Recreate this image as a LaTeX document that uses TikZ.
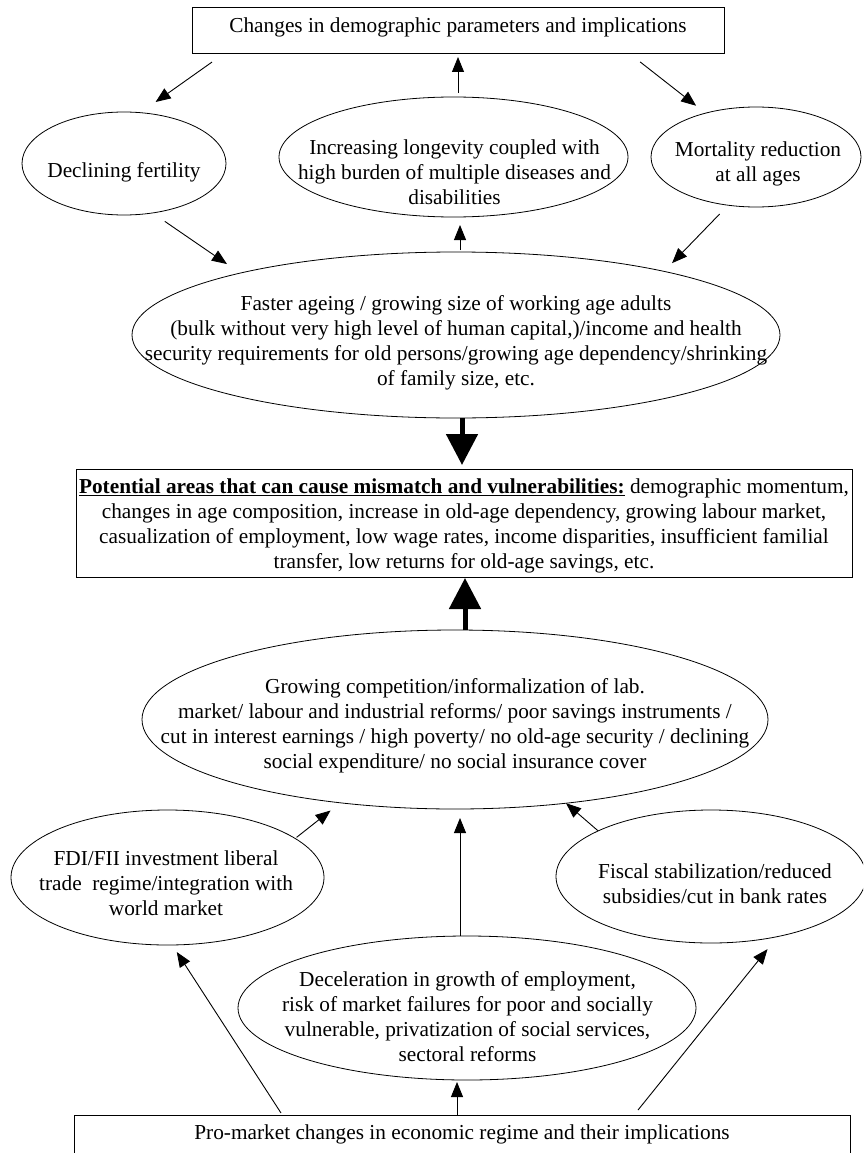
\documentclass[tikz,border=0pt]{standalone}
\usepackage{fontspec}
\setmainfont{Liberation Serif}
\usetikzlibrary{arrows.meta,shapes.geometric}
\begin{document}
\begin{tikzpicture}[x=1pt,y=-1pt,
  every node/.style={inner sep=0pt, outer sep=0pt},
  ell/.style={draw, ellipse, line width=0.8pt},
  box/.style={draw, rectangle, line width=0.8pt},
  txt/.style={align=center, font=\fontsize{21.3}{25}\selectfont},
  arr/.style={line width=0.9pt, -{Triangle[length=15pt,width=12pt]}},
  bigarr/.style={line width=5pt, -{Triangle[length=31pt,width=31pt]}},
]
\useasboundingbox (0,0) rectangle (863,1153);
\clip (0,0) rectangle (863,1153);

% shapes
\node[box, minimum width=532pt, minimum height=46pt] (top) at (458,30) {};
\node[ell, minimum width=204pt, minimum height=103pt] (fert) at (124,163.5) {};
\node[ell, minimum width=349pt, minimum height=120pt] (longev) at (453.5,157) {};
\node[ell, minimum width=210pt, minimum height=100pt] (mort) at (756,157) {};
\node[ell, minimum width=648pt, minimum height=166pt] (big) at (456,335) {};
\node[box, minimum width=776pt, minimum height=108pt] (pot) at (464,523) {};
\node[ell, minimum width=626pt, minimum height=179pt] (grow) at (455,719.5) {};
\node[ell, minimum width=313pt, minimum height=135pt] (fdi) at (167.5,877.5) {};
\node[ell, minimum width=310pt, minimum height=133pt] (fisc) at (711,876.5) {};
\node[ell, minimum width=458pt, minimum height=144pt] (decel) at (467,1008) {};
\node[box, minimum width=776pt, minimum height=44pt] (bottom) at (462,1137) {};

% texts
\node[txt] (ttop) at (458,27.5) {Changes in demographic parameters and implications};
\node[txt] (tfert) at (124,172) {Declining fertility};
\node[txt] (tlongev) at (454.5,172.5) {Increasing longevity coupled with\\high burden of multiple diseases and\\disabilities};
\node[txt] (tmort) at (758,164) {Mortality reduction\\at all ages};
\node[txt] (tbig) at (456,342.5) {Faster ageing / growing size of working age adults\\(bulk without very high level of human capital,)/income and health\\security requirements for old persons/growing age dependency/shrinking\\of family size, etc.};
\node[txt] (tpot) at (464,526) {\underline{\textbf{Potential areas that can cause mismatch and vulnerabilities:}} demographic momentum,\\changes in age composition, increase in old-age dependency, growing labour market,\\casualization of employment, low wage rates, income disparities, insufficient familial\\transfer, low returns for old-age savings, etc.};
\node[txt] (tgrow) at (455,725.5) {Growing competition/informalization of lab.\\market/ labour and industrial reforms/ poor savings instruments /\\cut in interest earnings / high poverty/ no old-age security / declining\\social expenditure/ no social insurance cover};
\node[txt] (tfdi) at (166,883.5) {FDI/FII investment liberal\\trade\ \ regime/integration with\\world market};
\node[txt] (tfisc) at (715,883.5) {Fiscal stabilization/reduced\\subsidies/cut in bank rates};
\node[txt] (tdecel) at (467.5,1017) {Deceleration in growth of employment,\\risk of market failures for poor and socially\\vulnerable, privatization of social services,\\sectoral reforms};
\node[txt] (tbottom) at (462,1134) {Pro-market changes in economic regime and their implications};

% connectors
\draw[arr, shorten <=15.7pt, shorten >=18.5pt] ([xshift=32.8pt]top.south west) -- (fert.72.8);
\draw[arr, shorten <=4pt, shorten >=4pt] (longev.north -| top.south) -- (top.south);
\draw[arr, shorten <=14.4pt, shorten >=12pt] ([xshift=436.75pt]top.south west) -- (mort.139.9);
\draw[arr, shorten <=14.9pt, shorten >=16pt] (fert.300.7) -- (big.164.9);
\draw[arr, shorten <=2pt, shorten >=8pt] ([xshift=4pt]big.north) -- ([xshift=4pt]big.north |- longev.south);
\draw[arr, shorten <=12.3pt, shorten >=11.5pt] (mort.240.5) -- (big.17.2);
\draw[bigarr, shorten >=4pt] ([xshift=6pt]big.south) -- ([xshift=6pt]big.south |- pot.north);
\draw[bigarr, shorten >=1pt] ([xshift=10pt]grow.north) -- ([xshift=10pt]grow.north |- pot.south);
\draw[arr, shorten <=1.8pt, shorten >=12.5pt] (fdi.17.2) -- (grow.216.3);
\draw[arr] (fisc.158.7) -- (grow.323.3);
\draw[arr, shorten >=9pt] ([xshift=5pt]grow.south |- decel.north) -- ([xshift=5pt]grow.south);
\draw[arr, shorten <=2.4pt, shorten >=8.4pt] ([xshift=208.3pt]bottom.north west) -- (fdi.274.6);
\draw[arr, shorten >=2pt] ([xshift=-5pt]bottom.north) -- ([xshift=-5pt]bottom.north |- decel.south);
\draw[arr, shorten <=6.4pt, shorten >=16.2pt] ([xshift=-216pt]bottom.north east) -- (fisc.318.3);
\end{tikzpicture}
\end{document}
